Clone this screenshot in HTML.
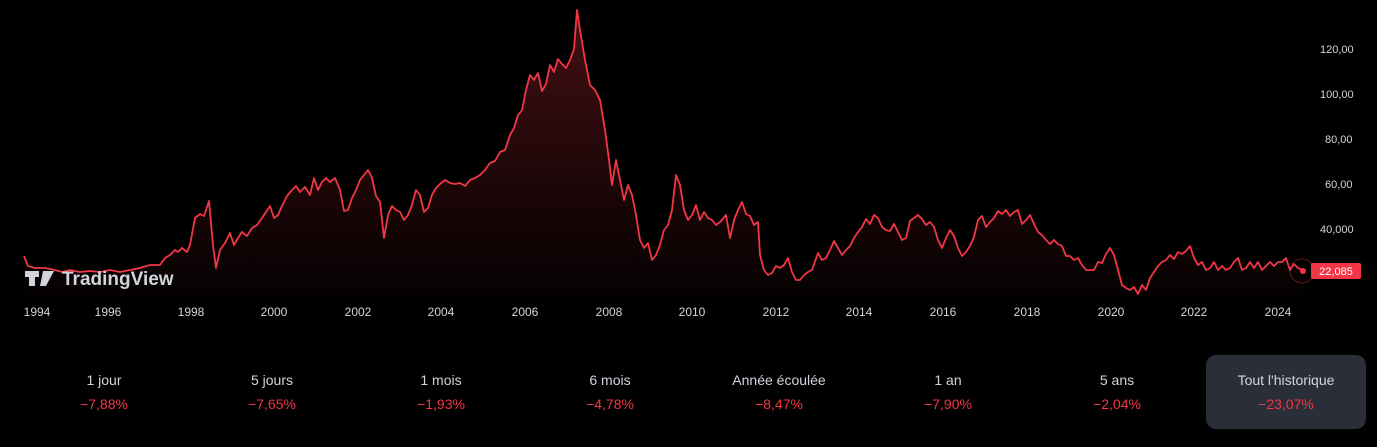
<!DOCTYPE html>
<html><head><meta charset="utf-8"><style>
html,body{margin:0;padding:0;background:#000;width:1377px;height:447px;overflow:hidden;font-family:"Liberation Sans","DejaVu Sans",sans-serif}
svg{position:absolute;left:0;top:0}
.st{position:absolute;top:368px;width:160px;text-align:center;font-size:14px;color:#d1d4dc;line-height:24px}
.st b{display:block;font-weight:normal;color:#f23645}
.hl{position:absolute;left:1206px;top:355px;width:160px;height:74px;background:#2a2e39;border-radius:10px}
</style></head><body>
<div class="hl"></div>
<svg width="1377" height="447" viewBox="0 0 1377 447">
<defs><linearGradient id="g" x1="0" y1="0" x2="0" y2="1"><stop offset="0" stop-color="#f23645" stop-opacity="0.28"/><stop offset="1" stop-color="#f23645" stop-opacity="0.02"/></linearGradient></defs>
<g font-size="11" fill="#d1d4dc" text-anchor="start">
<text x="1320" y="53">120,00</text><text x="1320" y="98">100,00</text><text x="1325" y="143">80,00</text><text x="1325" y="188">60,00</text><text x="1320" y="233">40,000</text>
</g>
<path id="p" fill="url(#g)" stroke="none" d="M24,256 L28,266 35,268 45,268 55,270 62,272 70,270 80,272 90,271 100,272 110,270 120,272 130,270 140,268 150,265 160,265 165,258 170,255 175,250 178,252 182,248 187,252 190,245 195,218 200,214 204,216 209,201 213,245 216,268 220,250 225,243 230,233 234,245 238,238 242,232 247,236 252,228 257,225 262,218 266,212 270,206 274,218 278,215 282,206 287,196 292,190 296,186 300,192 305,187 310,195 314,178 318,190 322,182 326,178 330,182 335,178 340,190 344,211 348,210 352,198 356,190 360,180 364,175 368,170 372,178 376,196 380,202 384,238 388,215 392,206 396,210 400,212 404,220 408,215 412,205 416,190 420,195 424,212 428,208 432,195 436,188 440,184 445,180 450,183 455,184 460,183 465,186 470,180 475,178 480,175 485,170 490,163 495,161 500,152 505,150 510,135 514,128 518,115 522,110 526,90 530,75 534,80 538,73 542,91 546,84 550,65 554,72 558,59 562,64 566,68 570,60 574,49 577,10 580,30 585,60 590,85 595,90 600,100 605,130 609,160 612,185 616,160 620,180 624,200 628,185 632,195 636,215 640,240 644,248 648,243 652,260 656,255 660,245 664,230 668,225 672,210 676,175 680,185 684,210 688,220 692,215 696,205 700,220 704,212 708,218 712,220 716,225 720,222 726,215 730,238 734,220 738,210 742,202 746,214 750,216 754,225 758,222 760,255 764,270 768,275 772,273 776,266 780,268 784,265 788,258 792,272 796,280 800,280 804,275 808,272 812,270 818,253 822,260 826,258 830,250 834,241 838,248 842,255 846,250 850,246 854,238 858,232 862,227 866,219 870,224 874,215 878,218 882,227 886,230 890,231 894,224 898,232 902,240 906,238 910,221 914,218 918,215 922,219 926,225 930,222 934,227 938,240 942,248 946,238 950,230 954,236 958,248 962,256 966,252 970,246 974,237 978,220 982,216 986,227 990,222 994,218 998,211 1002,214 1006,210 1010,216 1014,212 1018,210 1022,224 1026,220 1030,215 1034,224 1038,232 1042,235 1046,240 1050,244 1054,240 1058,244 1062,246 1066,256 1070,256 1074,260 1078,258 1082,265 1086,270 1090,270 1094,270 1098,262 1102,263 1106,254 1110,248 1114,255 1118,270 1122,285 1126,288 1130,290 1134,287 1138,294 1142,285 1146,290 1150,278 1154,272 1158,266 1162,262 1166,260 1170,255 1174,259 1178,252 1182,254 1186,251 1190,246 1194,258 1198,265 1202,262 1206,270 1210,268 1214,262 1218,270 1222,266 1226,270 1230,268 1234,262 1238,258 1242,270 1246,268 1250,262 1254,268 1258,262 1262,270 1266,266 1270,262 1274,266 1278,262 1282,262 1286,258 1290,270 1294,264 1298,268 1302,270 1304,271 L1304,296 L24,296 Z"/>
<polyline fill="none" stroke="#f23645" stroke-width="1.8" stroke-linejoin="round" points="24,256 28,266 35,268 45,268 55,270 62,272 70,270 80,272 90,271 100,272 110,270 120,272 130,270 140,268 150,265 160,265 165,258 170,255 175,250 178,252 182,248 187,252 190,245 195,218 200,214 204,216 209,201 213,245 216,268 220,250 225,243 230,233 234,245 238,238 242,232 247,236 252,228 257,225 262,218 266,212 270,206 274,218 278,215 282,206 287,196 292,190 296,186 300,192 305,187 310,195 314,178 318,190 322,182 326,178 330,182 335,178 340,190 344,211 348,210 352,198 356,190 360,180 364,175 368,170 372,178 376,196 380,202 384,238 388,215 392,206 396,210 400,212 404,220 408,215 412,205 416,190 420,195 424,212 428,208 432,195 436,188 440,184 445,180 450,183 455,184 460,183 465,186 470,180 475,178 480,175 485,170 490,163 495,161 500,152 505,150 510,135 514,128 518,115 522,110 526,90 530,75 534,80 538,73 542,91 546,84 550,65 554,72 558,59 562,64 566,68 570,60 574,49 577,10 580,30 585,60 590,85 595,90 600,100 605,130 609,160 612,185 616,160 620,180 624,200 628,185 632,195 636,215 640,240 644,248 648,243 652,260 656,255 660,245 664,230 668,225 672,210 676,175 680,185 684,210 688,220 692,215 696,205 700,220 704,212 708,218 712,220 716,225 720,222 726,215 730,238 734,220 738,210 742,202 746,214 750,216 754,225 758,222 760,255 764,270 768,275 772,273 776,266 780,268 784,265 788,258 792,272 796,280 800,280 804,275 808,272 812,270 818,253 822,260 826,258 830,250 834,241 838,248 842,255 846,250 850,246 854,238 858,232 862,227 866,219 870,224 874,215 878,218 882,227 886,230 890,231 894,224 898,232 902,240 906,238 910,221 914,218 918,215 922,219 926,225 930,222 934,227 938,240 942,248 946,238 950,230 954,236 958,248 962,256 966,252 970,246 974,237 978,220 982,216 986,227 990,222 994,218 998,211 1002,214 1006,210 1010,216 1014,212 1018,210 1022,224 1026,220 1030,215 1034,224 1038,232 1042,235 1046,240 1050,244 1054,240 1058,244 1062,246 1066,256 1070,256 1074,260 1078,258 1082,265 1086,270 1090,270 1094,270 1098,262 1102,263 1106,254 1110,248 1114,255 1118,270 1122,285 1126,288 1130,290 1134,287 1138,294 1142,285 1146,290 1150,278 1154,272 1158,266 1162,262 1166,260 1170,255 1174,259 1178,252 1182,254 1186,251 1190,246 1194,258 1198,265 1202,262 1206,270 1210,268 1214,262 1218,270 1222,266 1226,270 1230,268 1234,262 1238,258 1242,270 1246,268 1250,262 1254,268 1258,262 1262,270 1266,266 1270,262 1274,266 1278,262 1282,262 1286,258 1290,270 1294,264 1298,268 1302,270 1304,271"/>
<circle cx="1302" cy="271" r="12" fill="none" stroke="#f23645" stroke-opacity="0.4" stroke-width="1"/>
<circle cx="1303" cy="271" r="3" fill="#f23645"/>
<rect x="1311" y="263" width="50" height="16" rx="2" fill="#f23645"/>
<text x="1336" y="275" font-size="11" fill="#fff" text-anchor="middle">22,085</text>
<g fill="#d1d4dc">
<rect x="25" y="271" width="14" height="6"/><rect x="29" y="271" width="6" height="15"/>
<path d="M43,271 L54,271 L46,286 L40,286 Z"/>
<text x="62" y="285" font-size="19" font-weight="bold" fill="#d1d4dc">TradingView</text>
</g>
<g font-size="12" fill="#d1d4dc" text-anchor="middle">
<text x="37" y="316">1994</text><text x="108" y="316">1996</text><text x="191" y="316">1998</text><text x="274" y="316">2000</text><text x="358" y="316">2002</text><text x="441" y="316">2004</text><text x="525" y="316">2006</text><text x="609" y="316">2008</text><text x="692" y="316">2010</text><text x="776" y="316">2012</text><text x="859" y="316">2014</text><text x="943" y="316">2016</text><text x="1027" y="316">2018</text><text x="1111" y="316">2020</text><text x="1194" y="316">2022</text><text x="1278" y="316">2024</text>
</g>
</svg>
<div class="st" style="left:24px">1 jour<b>−7,88%</b></div>
<div class="st" style="left:192px">5 jours<b>−7,65%</b></div>
<div class="st" style="left:361px">1 mois<b>−1,93%</b></div>
<div class="st" style="left:530px">6 mois<b>−4,78%</b></div>
<div class="st" style="left:699px">Année écoulée<b>−8,47%</b></div>
<div class="st" style="left:868px">1 an<b>−7,90%</b></div>
<div class="st" style="left:1037px">5 ans<b>−2,04%</b></div>
<div class="st" style="left:1206px">Tout l'historique<b>−23,07%</b></div>
</body></html>
